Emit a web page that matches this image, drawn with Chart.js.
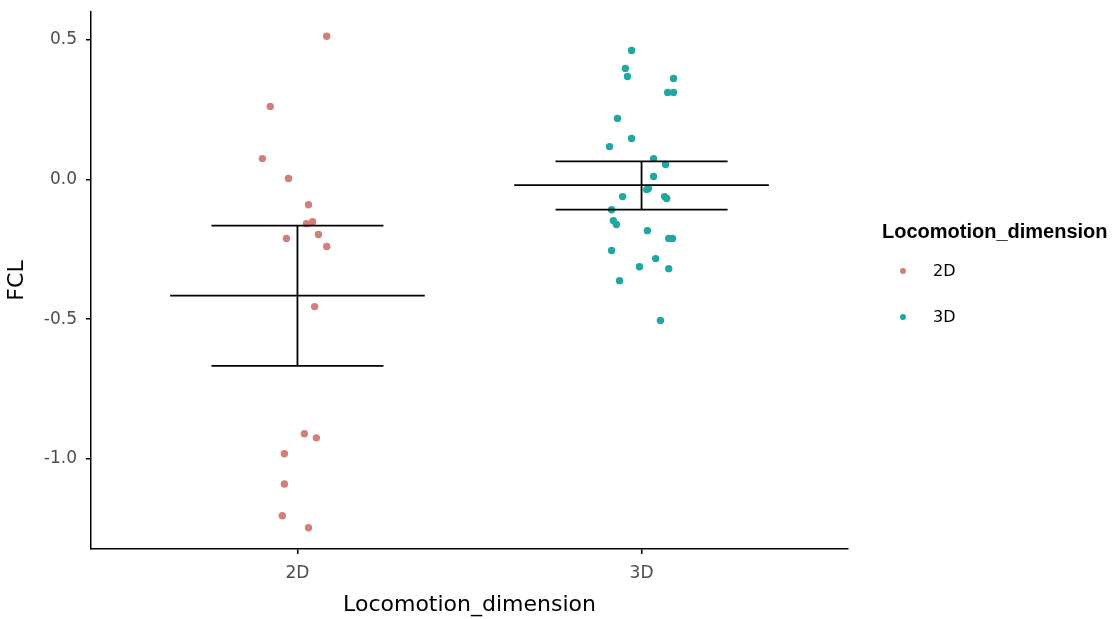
<!DOCTYPE html>
<html lang="en">
<head>
  <meta charset="UTF-8" />
  <title>FCL by Locomotion_dimension</title>
  <script src="https://cdn.jsdelivr.net/npm/chart.js"></script>
  <style>
    html, body { margin: 0; padding: 0; background: #fff; }
    .wrap { position: relative; width: 1117px; height: 619px; }
    #legend { position: absolute; left: 0; top: 0; font-family: "DejaVu Sans", sans-serif; color: #000; }
    #legend .title { position: absolute; left: 882px; top: 220px; font: bold 20px "Liberation Sans", Arial, sans-serif; white-space: nowrap; }
    #legend .item { position: absolute; left: 880px; height: 20px; line-height: 20px; white-space: nowrap; font-size: 16px; }
    #legend .dot { position: absolute; left: 20px; top: 7px; width: 6px; height: 6px; border-radius: 50%; }
    #legend .lab { position: absolute; left: 53px; top: 0; }
  </style>
</head>
<body>
  <div class="wrap">
    <canvas id="chart" width="1117" height="619"></canvas>
    <div id="legend"></div>
  </div>

  <script>
    // groups and their colours
    const categories = ["2D", "3D"];
    const groupPos = [1, 2];
    const colors = ["#d27f7a", "#1fa8a1"];

    // jittered points (x = jittered group position)
    const fcl2D = [0.513, 0.262, 0.075, 0.004, -0.090, -0.158, -0.151, -0.211, -0.197, -0.240,
                   -0.455, -0.910, -0.925, -0.982, -1.090, -1.204, -1.247];
    const x2D = [1.085, 0.921, 0.898, 0.974, 1.032, 1.026, 1.044, 0.968, 1.061, 1.085,
                 1.050, 1.020, 1.055, 0.962, 0.962, 0.956, 1.032];

    const fcl3D = [0.462, 0.398, 0.369, 0.362, 0.312, 0.312, 0.219, 0.147, 0.118, 0.075,
                   0.054, 0.011, -0.036, -0.032, -0.061, -0.061, -0.068, -0.108, -0.147, -0.161,
                   -0.183, -0.211, -0.211, -0.254, -0.283, -0.312, -0.319, -0.362, -0.505];
    const x3D = [1.971, 1.953, 1.959, 2.093, 2.076, 2.093, 1.930, 1.971, 1.907, 2.035,
                 2.070, 2.035, 2.015, 2.020, 1.945, 2.067, 2.073, 1.913, 1.918, 1.927,
                 2.017, 2.079, 2.090, 1.913, 2.041, 1.994, 2.079, 1.936, 2.055];

    // mean +/- se summary
    const meanFCL = [-0.416, -0.020];
    const upperFCL = [-0.165, 0.065];
    const lowerFCL = [-0.667, -0.108];

    const yTicks = [-1.0, -0.5, 0.0, 0.5];

    const toPts = (xs, ys) => ys.map((y, i) => ({ x: xs[i], y: y }));

    // error bar segments, separated by gaps
    const bars = [];
    groupPos.forEach((c, i) => {
      bars.push({ x: c - 0.37, y: meanFCL[i] }, { x: c + 0.37, y: meanFCL[i] }, { x: c, y: null });
      bars.push({ x: c - 0.25, y: upperFCL[i] }, { x: c + 0.25, y: upperFCL[i] }, { x: c, y: null });
      bars.push({ x: c - 0.25, y: lowerFCL[i] }, { x: c + 0.25, y: lowerFCL[i] }, { x: c, y: null });
      bars.push({ x: c, y: lowerFCL[i] }, { x: c, y: upperFCL[i] }, { x: c, y: null });
    });

    const tickFont = { family: "DejaVu Sans", size: 17 };
    const titleFont = { family: "DejaVu Sans", size: 22 };

    new Chart(document.getElementById("chart"), {
      type: "scatter",
      data: {
        datasets: [
          {
            type: "line",
            label: "mean_se",
            data: bars,
            borderColor: "#000",
            borderWidth: 1.8,
            pointRadius: 0,
            spanGaps: false,
            fill: false,
            order: 0
          },
          {
            label: categories[0],
            data: toPts(x2D, fcl2D),
            backgroundColor: colors[0],
            borderWidth: 0,
            pointRadius: 3.7,
            order: 1
          },
          {
            label: categories[1],
            data: toPts(x3D, fcl3D),
            backgroundColor: colors[1],
            borderWidth: 0,
            pointRadius: 3.7,
            order: 1
          }
        ]
      },
      options: {
        responsive: false,
        animation: false,
        layout: { padding: { left: 0, top: 12, right: 269, bottom: 0 } },
        plugins: { legend: { display: false }, tooltip: { enabled: false } },
        scales: {
          x: {
            type: "linear",
            min: 0.4,
            max: 2.6,
            afterBuildTicks: s => { s.ticks = groupPos.map(v => ({ value: v })); },
            afterFit: s => { s.height = 70; s.paddingLeft = 0; s.paddingRight = 0; },
            ticks: {
              color: "#4d4d4d",
              font: tickFont,
              padding: 9,
              callback: v => categories[v - 1]
            },
            grid: { drawOnChartArea: false, drawTicks: true, tickLength: 5, color: "#000", lineWidth: 1.5 },
            border: { display: true, color: "#000", width: 1.5 },
            title: { display: true, text: "Locomotion_dimension", color: "#000", font: titleFont, padding: { top: 0, bottom: 1 } }
          },
          y: {
            min: -1.323,
            max: 0.600,
            afterBuildTicks: s => { s.ticks = yTicks.map(v => ({ value: v })); },
            afterFit: s => { s.width = 91; s.paddingTop = 0; s.paddingBottom = 0; },
            ticks: {
              color: "#4d4d4d",
              font: tickFont,
              padding: 9,
              callback: v => v.toFixed(1)
            },
            grid: { drawOnChartArea: false, drawTicks: true, tickLength: 5, color: "#000", lineWidth: 1.5 },
            border: { display: true, color: "#000", width: 1.5 },
            title: { display: true, text: "FCL", color: "#000", font: titleFont, padding: { top: 4, bottom: 0 } }
          }
        }
      }
    });

    // legend
    const legend = document.getElementById("legend");
    const title = document.createElement("div");
    title.className = "title";
    title.textContent = "Locomotion_dimension";
    legend.appendChild(title);
    const itemTops = [261, 307];
    categories.forEach((c, i) => {
      const it = document.createElement("div");
      it.className = "item";
      it.style.top = itemTops[i] + "px";
      it.innerHTML = '<span class="dot" style="background:' + colors[i] + '"></span><span class="lab">' + c + "</span>";
      legend.appendChild(it);
    });
  </script>
</body>
</html>
